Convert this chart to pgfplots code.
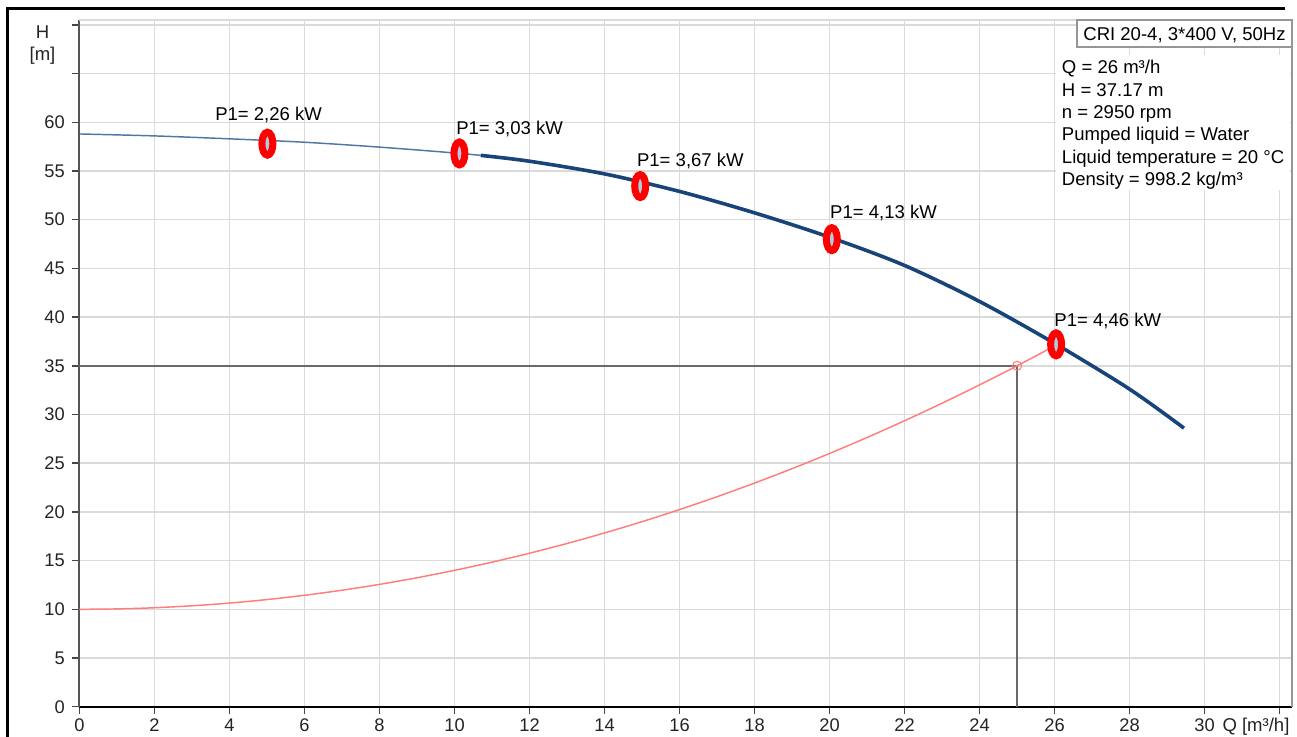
\documentclass[border=0pt]{standalone}
\usepackage{fontspec}
\setmainfont{Liberation Sans}
\usepackage{pgfplots}
\pgfplotsset{compat=1.18}
\definecolor{gridc}{RGB}{218,218,218}
\definecolor{navy}{RGB}{24,68,122}
\definecolor{thinblue}{RGB}{80,118,165}
\definecolor{sysred}{RGB}{255,125,125}
\definecolor{opgray}{RGB}{105,105,105}
\definecolor{txt}{RGB}{35,35,40}
\definecolor{slot}{RGB}{175,205,222}
\definecolor{boxgray}{RGB}{150,150,150}
\definecolor{yaxc}{RGB}{85,85,85}
\definecolor{tickc}{RGB}{70,70,70}
\newcommand{\lf}{\fontsize{13.9}{16}\selectfont}
\begin{document}
\begin{tikzpicture}
\begin{axis}[name=ax, at={(0,0)}, anchor=south west,
  scale only axis, width=909.375pt, height=515.03pt,
  xmin=0, xmax=32.33, ymin=0, ymax=70.5, clip=false,
  axis x line*=bottom, axis y line*=left,
  x axis line style={-, black, line width=1.5pt},
  y axis line style={-, yaxc, line width=1.5pt},
  xtick={0,2,...,32},
  xticklabels={0,2,4,6,8,10,12,14,16,18,20,22,24,26,28,30,{}},
  ytick={0,5,...,70},
  yticklabels={0,5,10,15,20,25,30,35,40,45,50,55,60,{},{}},
  grid=major, major grid style={gridc, line width=1.1pt},
  tick align=outside, major tick length=5.25pt,
  every tick/.style={tickc, line width=1.1pt},
  ticklabel style={font=\fontsize{13.7}{16}\selectfont, text=txt},
  /pgf/number format/assume math mode=true,
  xticklabel style={anchor=base, inner sep=0pt, yshift=-13.6pt},
  yticklabel style={anchor=east, inner sep=0pt, xshift=-5.6pt},
]
% frame of the picture
\draw[black, line width=2.25pt] (axis cs:-1.933,-3.2) -- (axis cs:-1.933,71.73) -- (axis cs:32.147,71.73);
% top and right border
\draw[gridc, line width=1.1pt] (rel axis cs:0,1) -- (rel axis cs:1,1);
\draw[boxgray, line width=1.3pt] (rel axis cs:1,0) -- (rel axis cs:1,1);
% operating point lines
\draw[opgray, line width=1.1pt] (axis cs:0,35) -- (axis cs:25,35) -- (axis cs:25,0);
% system curve
\addplot[sysred, line width=1.1pt, smooth] coordinates {
 (0,10) (1,10.04) (2,10.16) (3,10.36) (4,10.64) (5,11) (6,11.44) (7,11.96)
 (8,12.56) (9,13.24) (10,14) (11,14.84) (12,15.76) (13,16.76) (14,17.84)
 (15,19) (16,20.24) (17,21.56) (18,22.96) (19,24.44) (20,26) (21,27.64)
 (22,29.36) (23,31.16) (24,33.04) (25,35) (26.04,37.12)};
\addplot[sysred, only marks, mark=o, mark size=3.4pt, mark options={line width=0.8pt}] coordinates {(25,35)};
% pump curve
\addplot[thinblue, line width=1.1pt, smooth] coordinates {
 (0,58.8) (2,58.6) (4,58.3) (6,57.95) (8,57.45) (10,56.85) (10.7,56.6)};
\addplot[navy, line width=2.7pt, smooth] coordinates {
 (10.7,56.6) (12,56.0) (14,54.7) (16,52.9) (18,50.7) (20,48.2) (22,45.3)
 (24,41.6) (26,37.3) (28,32.6) (29.45,28.6)};
% power markers
\addplot[only marks, mark=*, mark size=8.6pt,
  mark options={draw=red, fill=slot, line width=5.25pt, xscale=0.478}] coordinates {
 (5.01,57.8) (10.13,56.8) (14.95,53.45) (20.06,48.0) (26.04,37.2)};
% power labels
\node[anchor=base west, inner sep=0pt, font=\lf, text=black] at (axis cs:3.613,60.16) {P1= 2,26 kW};
\node[anchor=base west, inner sep=0pt, font=\lf, text=black] at (axis cs:10.04,58.70) {P1= 3,03 kW};
\node[anchor=base west, inner sep=0pt, font=\lf, text=black] at (axis cs:14.86,55.51) {P1= 3,67 kW};
\node[anchor=base west, inner sep=0pt, font=\lf, text=black] at (axis cs:20.01,50.17) {P1= 4,13 kW};
\node[anchor=base west, inner sep=0pt, font=\lf, text=black] at (axis cs:25.99,39.01) {P1= 4,46 kW};
% axis titles
\node[anchor=base, inner sep=0pt, font=\lf, text=txt] at (axis cs:-0.987,68.62) {H};
\node[anchor=base, inner sep=0pt, font=\lf, text=txt] at (axis cs:-0.987,66.30) {[m]};
\node[anchor=base west, inner sep=0pt, font=\lf, text=txt] at (axis cs:30.47,-2.55) {Q [m³/h]};
% info box
\fill[white] (axis cs:26.05,53.03) rectangle (axis cs:32.28,66.9);
\filldraw[fill=white, draw=boxgray, line width=1.1pt] (axis cs:26.6,67.73) rectangle (rel axis cs:1,1);
\node[anchor=base west, inner sep=0pt, font=\lf, text=black] at (axis cs:26.76,68.40) {CRI 20-4, 3*400 V, 50Hz};
\node[anchor=base west, inner sep=0pt, font=\lf, text=black] at (axis cs:26.19,64.96) {Q = 26 m³/h};
\node[anchor=base west, inner sep=0pt, font=\lf, text=black] at (axis cs:26.19,62.67) {H = 37.17 m};
\node[anchor=base west, inner sep=0pt, font=\lf, text=black] at (axis cs:26.19,60.38) {n = 2950 rpm};
\node[anchor=base west, inner sep=0pt, font=\lf, text=black] at (axis cs:26.19,58.09) {Pumped liquid = Water};
\node[anchor=base west, inner sep=0pt, font=\lf, text=black] at (axis cs:26.19,55.80) {Liquid temperature = 20 °C};
\node[anchor=base west, inner sep=0pt, font=\lf, text=black] at (axis cs:26.19,53.51) {Density = 998.2 kg/m³};
\end{axis}
\pgfresetboundingbox
\path[use as bounding box] ([shift={(-59.625pt,-21.975pt)}]ax.south west) rectangle ([shift={(3.75pt,15pt)}]ax.north east);
\end{tikzpicture}
\end{document}
